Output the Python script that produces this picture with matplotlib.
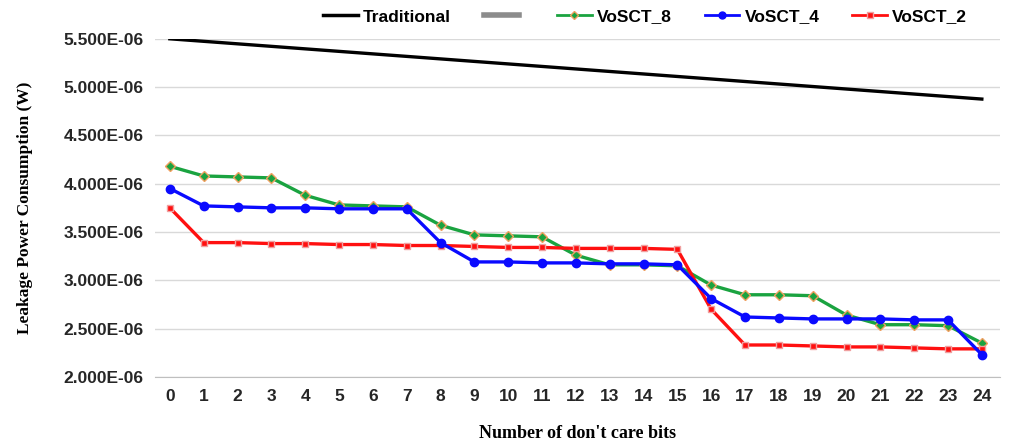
import numpy as np
from matplotlib import pyplot as plt
from matplotlib.lines import Line2D
from matplotlib.ticker import FuncFormatter

bits = list(range(25))
traditional = [5.500, 5.474, 5.448, 5.422, 5.396, 5.370, 5.344, 5.318, 5.292, 5.266,
               5.240, 5.214, 5.188, 5.162, 5.136, 5.110, 5.084, 5.058, 5.032, 5.006,
               4.980, 4.954, 4.928, 4.902, 4.876]
vosct_8 = [4.18, 4.08, 4.07, 4.06, 3.88, 3.78, 3.77, 3.76, 3.57, 3.47, 3.46, 3.45, 3.26,
           3.16, 3.16, 3.15, 2.95, 2.85, 2.85, 2.84, 2.64, 2.54, 2.54, 2.53, 2.35]
vosct_4 = [3.95, 3.77, 3.76, 3.75, 3.75, 3.74, 3.74, 3.74, 3.39, 3.19, 3.19, 3.18, 3.18,
           3.17, 3.17, 3.16, 2.81, 2.62, 2.61, 2.60, 2.60, 2.60, 2.59, 2.59, 2.23]
vosct_2 = [3.75, 3.39, 3.39, 3.38, 3.38, 3.37, 3.37, 3.36, 3.36, 3.35, 3.34, 3.34, 3.33,
           3.33, 3.33, 3.32, 2.70, 2.33, 2.33, 2.32, 2.31, 2.31, 2.30, 2.29, 2.29]
yticks = [2.0, 2.5, 3.0, 3.5, 4.0, 4.5, 5.0, 5.5]

scale = 1e-6
fig = plt.figure(figsize=(10.24, 4.46), dpi=100)
ax = fig.add_axes([0.151, 0.155, 0.826, 0.758])

x = np.array(bits)
ax.plot(x, np.array(traditional) * scale, color='black', lw=2.4, zorder=3)
ax.plot(x, np.array(vosct_8) * scale, color='#1aa340', lw=2.4, marker='D', ms=5,
        mfc='#1aa340', mec='#f0a060', mew=1.0, zorder=4)
ax.plot(x, np.array(vosct_4) * scale, color='#0a0aff', lw=2.4, marker='o', ms=6,
        mfc='#0a0aff', mec='#0a0aff', zorder=5)
ax.plot(x, np.array(vosct_2) * scale, color='#ff1010', lw=2.4, marker='s', ms=5,
        mfc='#ff1010', mec='#f0a0a0', mew=1.0, zorder=4)

ax.set_xlim(-0.45, 24.55)
ax.set_ylim(2.0e-6, 5.5e-6)
ax.set_xticks(bits)
ax.set_yticks([v * scale for v in yticks])
ax.yaxis.set_major_formatter(FuncFormatter(lambda v, p: '%.3fE-06' % (v / scale)))
ax.grid(axis='y', color='#d9d9d9', lw=1)
ax.set_axisbelow(True)
for s in ['top', 'right', 'left']:
    ax.spines[s].set_visible(False)
ax.spines['bottom'].set_color('#bfbfbf')
ax.tick_params(axis='both', length=0, labelsize=12.5, pad=8)
ax.tick_params(axis='x', pad=9)
for lab in ax.get_xticklabels() + ax.get_yticklabels():
    lab.set_fontfamily('Liberation Sans')
    lab.set_fontweight('bold')
    lab.set_color('#262626')

ax.set_ylabel('Leakage Power Consumption (W)', fontfamily='Liberation Serif',
              fontweight='bold', fontsize=12.5, labelpad=22)
ax.set_xlabel("Number of don't care bits", fontfamily='Liberation Serif',
              fontweight='bold', fontsize=13, labelpad=15)

handles = [
    Line2D([], [], color='black', lw=2.5),
    Line2D([], [], color='#8c8c8c', lw=4),
    Line2D([], [], color='#1aa340', lw=2, marker='D', ms=4, mec='#f0a060'),
    Line2D([], [], color='#0a0aff', lw=2, marker='o', ms=5),
    Line2D([], [], color='#ff1010', lw=2, marker='s', ms=4, mec='#f0a0a0'),
]
labels = ['Traditional', '', 'VoSCT_8', 'VoSCT_4', 'VoSCT_2']
leg = fig.legend(handles, labels, loc='center', bbox_to_anchor=(0.63, 0.962), ncol=5,
                 frameon=False, handlelength=2.0, handletextpad=0.3, columnspacing=1.9,
                 prop={'family': 'Liberation Sans', 'weight': 'bold', 'size': 12.5})

fig.savefig('out.png', dpi=100)
